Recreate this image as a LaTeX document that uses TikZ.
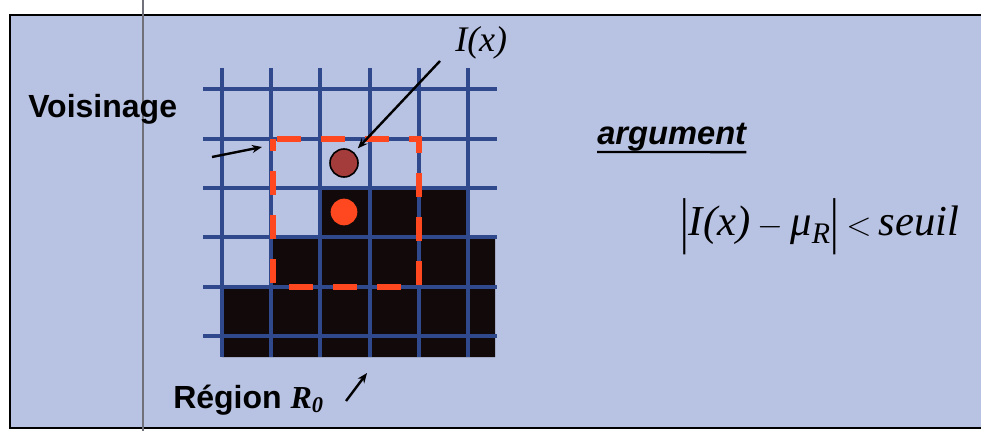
\documentclass[tikz,border=0pt]{standalone}
\usepackage{fontspec}
\usepackage{graphicx}
\setmainfont{Liberation Serif}
\setsansfont{Liberation Sans}
\usetikzlibrary{arrows.meta}

\definecolor{bgblue}{RGB}{184,194,226}
\definecolor{gridblue}{RGB}{48,72,140}
\definecolor{dashred}{RGB}{255,72,32}
\definecolor{cellblack}{RGB}{18,10,10}
\definecolor{pixred}{RGB}{165,60,60}
\definecolor{scangray}{RGB}{112,112,122}

\tikzset{
  gridline/.style={gridblue, line width=3pt},
  nbhd/.style={dashred, line width=4.5pt, dash pattern=on 18pt off 15pt, dash phase=9pt},
  pointer/.style={->, >={Stealth[length=7.5pt,width=6pt]}, line width=1.8pt, black},
  sanslabel/.style={font=\sffamily\bfseries\fontsize{24}{28}\selectfont, inner sep=0pt}
}

\begin{document}
\begin{tikzpicture}[x=0.75pt, y=-0.75pt]
        \clip (0,0) rectangle (981,431);

        % Background panel
        \draw[fill=bgblue, line width=1.8pt] (10,15) rectangle (995,428);
        \draw[scangray, line width=1.3pt] (143,0) -- (143,431);

        % Region R_0 (black cells)
        \fill[cellblack] (222,357) -- (495,357) -- (495,237.4) -- (468,237.4) -- (468,188.1)
            -- (320.4,188.1) -- (320.4,237.4) -- (271.2,237.4) -- (271.2,286.7) -- (222,286.7) -- cycle;

        % Grid
        \foreach \x in {222,271.2,320.4,369.6,418.8,468}
            \draw[gridline] (\x,68) -- (\x,357);
        \foreach \y in {89.5,138.8,188.1,237.4,286.7,336}
            \draw[gridline] (203,\y) -- (497,\y);

        % Neighbourhood (dashed square)
        \draw[nbhd] (273,139) rectangle (419,287);

        % Pixels
        \node[circle, fill=pixred, draw=black, line width=1.2pt, minimum size=21pt, inner sep=0pt] (pix) at (344,163) {};
        \node[circle, fill=dashred, minimum size=20pt, inner sep=0pt] (seed) at (344,212) {};

        % Labels
        \node[sanslabel, anchor=base west] (voisin) at (28,118) {Voisinage};
        \node[sanslabel, anchor=base west] (region) at (173,408) {Région \textbf{\textit{\rmfamily R}}\textsubscript{\textbf{\textit{\rmfamily 0}}}};
        \node[font=\rmfamily\itshape\fontsize{27}{32}\selectfont, anchor=base west, inner sep=0pt] (ix) at (455,52) {I(x)};
        \node[font=\sffamily\bfseries\itshape\fontsize{24.5}{29}\selectfont, anchor=base west, inner sep=0pt] (arg) at (597,145) {argument};
        \draw[line width=1.8pt] (arg.base west) ++(0,7) -- ([yshift=-5.3pt]arg.base east);
        \node[font=\rmfamily\itshape\fontsize{32}{38}\selectfont, anchor=base west, inner sep=0pt] (crit) at (680,235)
            {\raisebox{-0.15em}{\scalebox{1}[1.45]{\upshape|}}I(x)\,$-$\,μ\textsubscript{R}\raisebox{-0.15em}{\scalebox{1}[1.45]{\upshape|}}\,$<$\,seuil};

        % Arrows
        \coordinate (ixtail) at (440,61);
        \coordinate (vtail) at (212,157);
        \coordinate (vhead) at (262,147);
        \coordinate (rtail) at (346,401);
        \coordinate (rhead) at (367,373);
        \draw[pointer, shorten >=4pt] (ixtail) -- (pix);
        \draw[pointer] (vtail) -- (vhead);
        \draw[pointer] (rtail) -- (rhead);
\end{tikzpicture}
\end{document}
